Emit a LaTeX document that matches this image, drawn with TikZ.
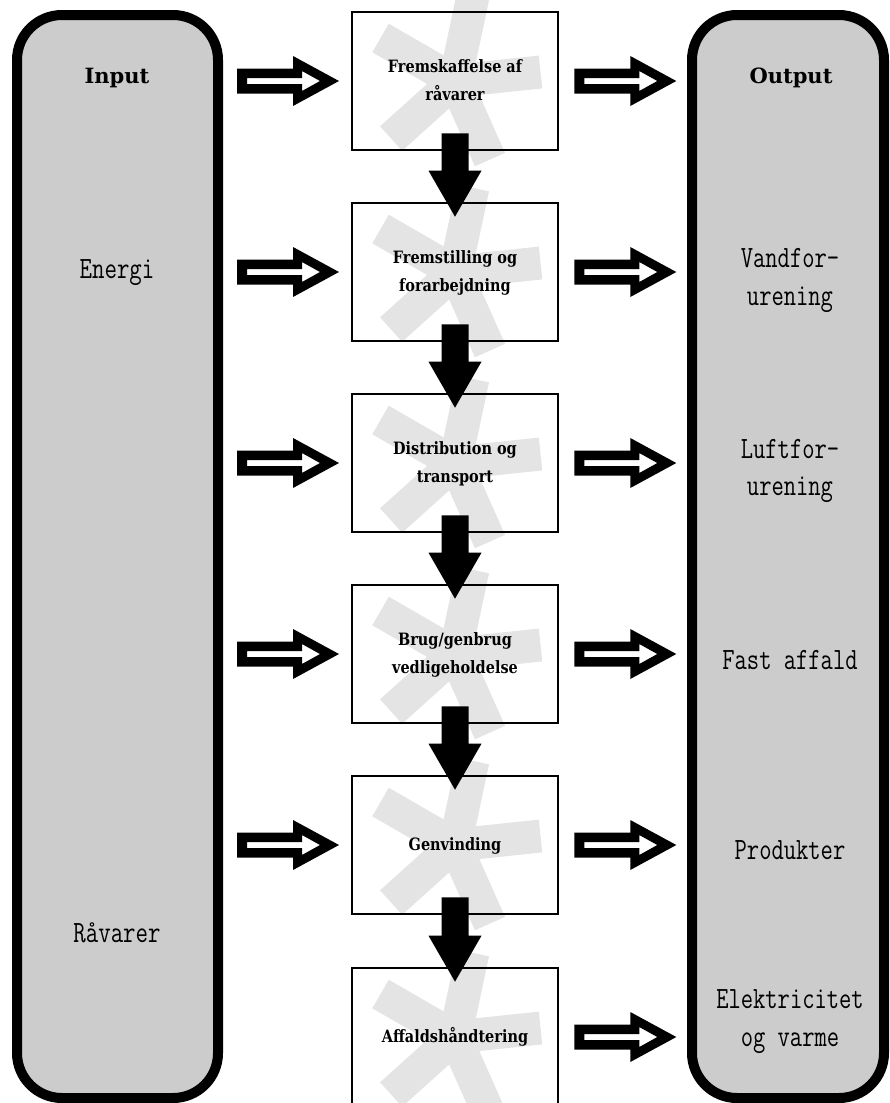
\documentclass[tikz,border=0pt]{standalone}
\usepackage{fontspec}
\usepackage{graphicx}
\usetikzlibrary{calc}
\newfontfamily\slabfont{DejaVu Serif}
\definecolor{panelgray}{HTML}{CCCCCC}
\definecolor{markgray}{HTML}{E4E4E4}

% condensed multi-line text blocks
\newcommand\condensed[2]{\scalebox{#1}[1]{\begin{tabular}{@{}c@{}}#2\end{tabular}}}

\tikzset{
  sidepanel/.style={draw, line width=10pt, fill=panelgray, rounded corners=45pt,
    inner sep=0pt},
  stepbox/.style={draw, line width=2.6pt, minimum width=206pt, minimum height=138pt,
    inner sep=0pt, font=\slabfont\bfseries\fontsize{17}{27.5}\selectfont},
  paneltitle/.style={inner sep=0pt, font=\slabfont\bfseries\fontsize{21}{25}\selectfont},
  paneltext/.style={inner sep=0pt, font=\ttfamily\fontsize{31}{37.5}\selectfont},
  markarm/.style={draw=markgray, line width=33pt},
  asterisk/.pic={\foreach \a in {6,78,150,222,294} {\draw[markarm] (0,0) -- (-\a:86);}},
}

% solid downward arrow between two consecutive steps
\newcommand\flowdown[2]{%
  \fill let \p1=(#1.south), \p2=(#2.north) in
    (\x1-13.5pt,\y1+18pt) -- (\x1+13.5pt,\y1+18pt) -- (\x1+13.5pt,\y2+31pt)
    -- (\x1+26.5pt,\y2+31pt) -- (\x1,\y2-15pt) -- (\x1-26.5pt,\y2+31pt)
    -- (\x1-13.5pt,\y2+31pt) -- cycle;}

% outlined arrow pointing right, starting at the given point
\newcommand\hollowarrow[1]{%
  \fill[even odd rule] let \p1=#1 in
    (\x1,\y1+12.5pt) -- (\x1+56pt,\y1+12.5pt) -- (\x1+56pt,\y1+25pt)
    -- (\x1+102pt,\y1) -- (\x1+56pt,\y1-25pt) -- (\x1+56pt,\y1-12.5pt)
    -- (\x1,\y1-12.5pt) -- cycle
    (\x1+10pt,\y1+3pt) -- (\x1+65pt,\y1+3pt) -- (\x1+65pt,\y1+10pt)
    -- (\x1+83pt,\y1) -- (\x1+65pt,\y1-10pt) -- (\x1+65pt,\y1-3pt)
    -- (\x1+10pt,\y1-3pt) -- cycle;}

\begin{document}
\begin{tikzpicture}[x=1pt, y=-1pt]
  \path[use as bounding box] (0,0) rectangle (890,1103);
  \clip (0,0) rectangle (890,1103);

  % side panels
  \node[sidepanel, minimum width=201pt, minimum height=1083pt] (inbox) at (117.5,556.5) {};
  \node[sidepanel, minimum width=192pt, minimum height=1083pt] (outbox) at (788,556.5) {};

  % centres of the process steps
  \foreach \i/\y in {1/81, 2/272, 3/463, 4/654, 5/845, 6/1037}
    {\coordinate (c\i) at (455,\y);}

  % watermark stars behind the steps
  \foreach \i in {1,...,6}
    {\pic at (c\i) {asterisk};}

  % process steps
  \node[stepbox] (b1) at (c1) {\condensed{0.85}{Fremskaffelse af\\råvarer}};
  \node[stepbox] (b2) at (c2) {\condensed{0.85}{Fremstilling og\\forarbejdning}};
  \node[stepbox] (b3) at (c3) {\condensed{0.85}{Distribution og\\transport}};
  \node[stepbox] (b4) at (c4) {\condensed{0.85}{Brug/genbrug\\vedligeholdelse}};
  \node[stepbox] (b5) at (c5) {\condensed{0.85}{Genvinding}};
  \node[stepbox] (b6) at (c6) {\condensed{0.85}{Affaldshåndtering}};

  % flow between steps
  \flowdown{b1}{b2}
  \flowdown{b2}{b3}
  \flowdown{b3}{b4}
  \flowdown{b4}{b5}
  \flowdown{b5}{b6}

  % inputs into the steps
  \foreach \i in {1,...,5}
    {\hollowarrow{($(inbox.east |- b\i)+(14,0)$)}}

  % outputs from the steps
  \foreach \i in {1,...,6}
    {\hollowarrow{($(b\i.east)+(15,0)$)}}

  % panel texts
  \node[paneltitle, anchor=base] (intitle) at (117,83) {Input};
  \node[paneltitle, anchor=base] (outtitle) at (791,83) {Output};
  \node[paneltext, anchor=base] (energi) at (117,278) {\scalebox{0.78}[1]{Energi}};
  \node[paneltext, anchor=base] (raavarer) at (117,942) {\scalebox{0.78}[1]{Råvarer}};
  \node[paneltext] (vand) at (790,279) {\condensed{0.77}{Vandfor-\\urening}};
  \node[paneltext] (luft) at (790,469.5) {\condensed{0.77}{Luftfor-\\urening}};
  \node[paneltext, anchor=base] (affald) at (790,669) {\scalebox{0.77}[1]{Fast affald}};
  \node[paneltext, anchor=base] (produkter) at (790,859) {\scalebox{0.77}[1]{Produkter}};
  \node[paneltext] (el) at (790,1020) {\condensed{0.77}{Elektricitet\\og varme}};
\end{tikzpicture}
\end{document}
